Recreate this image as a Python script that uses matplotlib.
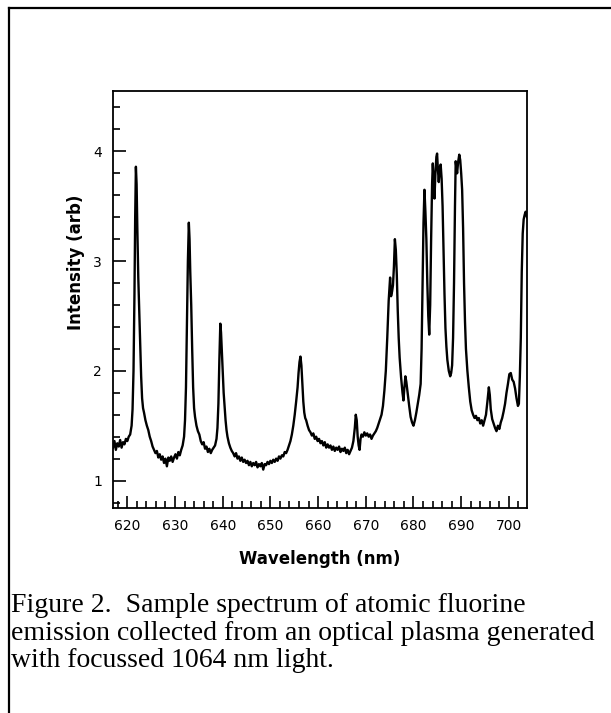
import matplotlib
matplotlib.use("Agg")
from matplotlib import pyplot as plt
from matplotlib.ticker import MultipleLocator
from matplotlib.lines import Line2D

# Spektrum odcitane z obrazku (vlnova dlzka v nm, intenzita v arb)
wavelength = [
    617.0, 617.3, 617.6, 617.9, 618.2, 618.5, 618.8, 619.1, 619.4, 619.7,
    620.0, 620.3, 620.6, 620.9, 621.1, 621.3, 621.5, 621.65, 621.8, 621.95,
    622.1, 622.3, 622.5, 622.7, 622.9, 623.1, 623.3, 623.5, 623.8, 624.1,
    624.4, 624.7, 625.0, 625.3, 625.6, 625.9, 626.2, 626.5, 626.8, 627.1,
    627.4, 627.7, 628.0, 628.3, 628.6, 628.9, 629.2, 629.5, 629.8, 630.1,
    630.4, 630.7, 631.0, 631.3, 631.6, 631.9, 632.1, 632.3, 632.5, 632.7,
    632.9, 633.05, 633.2, 633.4, 633.6, 633.8, 634.0, 634.2, 634.5, 634.8,
    635.1, 635.4, 635.7, 636.0, 636.3, 636.6, 636.9, 637.2, 637.5, 637.8,
    638.1, 638.4, 638.7, 638.9, 639.1, 639.3, 639.5, 639.65, 639.8, 640.0,
    640.2, 640.4, 640.6, 640.8, 641.0, 641.3, 641.6, 641.9, 642.2, 642.5,
    642.8, 643.1, 643.4, 643.7, 644.0, 644.3, 644.6, 644.9, 645.2, 645.5,
    645.8, 646.1, 646.4, 646.7, 647.0, 647.3, 647.6, 647.9, 648.2, 648.5,
    648.8, 649.1, 649.4, 649.7, 650.0, 650.3, 650.6, 650.9, 651.2, 651.5,
    651.8, 652.1, 652.4, 652.7, 653.0, 653.3, 653.6, 653.9, 654.2, 654.5,
    654.8, 655.1, 655.4, 655.7, 655.9, 656.1, 656.3, 656.5, 656.7, 656.9,
    657.1, 657.3, 657.5, 657.8, 658.1, 658.4, 658.7, 659.0, 659.3, 659.6,
    659.9, 660.2, 660.5, 660.8, 661.1, 661.4, 661.7, 662.0, 662.3, 662.6,
    662.9, 663.2, 663.5, 663.8, 664.1, 664.4, 664.7, 665.0, 665.3, 665.6,
    665.9, 666.2, 666.5, 666.8, 667.1, 667.4, 667.7, 667.9, 668.1, 668.3,
    668.5, 668.7, 668.9, 669.1, 669.4, 669.7, 670.0, 670.3, 670.6, 670.9,
    671.2, 671.5, 671.8, 672.1, 672.4, 672.7, 673.0, 673.3, 673.6, 673.9,
    674.2, 674.5, 674.8, 675.1, 675.3, 675.5, 675.7, 675.9, 676.1, 676.3,
    676.5, 676.7, 676.9, 677.1, 677.4, 677.7, 677.9, 678.1, 678.3, 678.5,
    678.8, 679.1, 679.4, 679.7, 680.0, 680.3, 680.6, 680.9, 681.2, 681.5,
    681.7, 681.9, 682.1, 682.3, 682.5, 682.7, 682.9, 683.1, 683.3, 683.5,
    683.7, 683.9, 684.05, 684.2, 684.4, 684.6, 684.8, 684.95, 685.1, 685.3,
    685.5, 685.7, 685.9, 686.1, 686.3, 686.5, 686.7, 686.9, 687.1, 687.4,
    687.7, 687.9, 688.1, 688.3, 688.5, 688.7, 688.85, 689.0, 689.15, 689.35,
    689.6, 689.8, 690.0, 690.2, 690.4, 690.6, 690.8, 691.0, 691.3, 691.6,
    691.9, 692.2, 692.5, 692.8, 693.1, 693.4, 693.7, 694.0, 694.3, 694.6,
    694.9, 695.2, 695.5, 695.8, 696.0, 696.2, 696.5, 696.8, 697.1, 697.4,
    697.7, 698.0, 698.3, 698.6, 698.9, 699.2, 699.5, 699.8, 700.1, 700.4,
    700.7, 701.0, 701.3, 701.6, 701.9, 702.1, 702.3, 702.5, 702.7, 702.9,
    703.1, 703.3, 703.5, 703.8,
]
intensity = [
    1.30, 1.36, 1.28, 1.34, 1.31, 1.37, 1.30, 1.35, 1.33, 1.38,
    1.36, 1.40, 1.42, 1.50, 1.65, 2.00, 2.70, 3.40, 3.86, 3.70,
    3.30, 2.85, 2.55, 2.25, 1.95, 1.75, 1.66, 1.62, 1.55, 1.50,
    1.46, 1.40, 1.36, 1.31, 1.28, 1.25, 1.27, 1.21, 1.24, 1.19,
    1.22, 1.16, 1.20, 1.13, 1.21, 1.18, 1.22, 1.17, 1.21, 1.24,
    1.20, 1.26, 1.23, 1.28, 1.32, 1.40, 1.55, 1.85, 2.40, 3.00,
    3.35, 3.20, 2.90, 2.60, 2.20, 1.85, 1.66, 1.58, 1.50, 1.45,
    1.42, 1.36, 1.33, 1.35, 1.29, 1.31, 1.26, 1.29, 1.25, 1.28,
    1.30, 1.32, 1.38, 1.48, 1.70, 2.10, 2.43, 2.35, 2.20, 1.98,
    1.80, 1.68, 1.55, 1.46, 1.40, 1.34, 1.30, 1.27, 1.25, 1.22,
    1.25, 1.20, 1.22, 1.18, 1.21, 1.17, 1.19, 1.16, 1.18, 1.14,
    1.17, 1.13, 1.16, 1.14, 1.17, 1.12, 1.15, 1.13, 1.16, 1.10,
    1.15, 1.14, 1.17, 1.15, 1.18, 1.16, 1.19, 1.17, 1.20, 1.18,
    1.22, 1.20, 1.23, 1.22, 1.26, 1.25, 1.28, 1.32, 1.36, 1.42,
    1.50, 1.60, 1.72, 1.85, 1.98, 2.08, 2.13, 2.05, 1.88, 1.72,
    1.62, 1.57, 1.55, 1.50, 1.46, 1.44, 1.41, 1.43, 1.38, 1.40,
    1.36, 1.38, 1.34, 1.36, 1.32, 1.35, 1.30, 1.33, 1.30, 1.32,
    1.28, 1.31, 1.27, 1.30, 1.28, 1.31, 1.26, 1.29, 1.27, 1.30,
    1.25, 1.28, 1.24, 1.27, 1.30, 1.36, 1.48, 1.60, 1.55, 1.40,
    1.32, 1.28, 1.38, 1.42, 1.40, 1.44, 1.41, 1.43, 1.40, 1.42,
    1.38, 1.41, 1.43, 1.45, 1.48, 1.52, 1.56, 1.60, 1.68, 1.82,
    2.00, 2.30, 2.64, 2.85, 2.68, 2.72, 2.78, 2.95, 3.20, 3.10,
    2.88, 2.55, 2.30, 2.12, 1.94, 1.80, 1.73, 1.85, 1.95, 1.90,
    1.79, 1.68, 1.58, 1.53, 1.50, 1.55, 1.62, 1.70, 1.78, 1.88,
    2.20, 2.80, 3.35, 3.65, 3.45, 3.20, 2.80, 2.50, 2.33, 2.60,
    3.20, 3.70, 3.89, 3.75, 3.57, 3.80, 3.95, 3.98, 3.85, 3.72,
    3.85, 3.88, 3.75, 3.50, 3.10, 2.70, 2.39, 2.22, 2.10, 2.00,
    1.95, 1.98, 2.05, 2.30, 2.80, 3.50, 3.91, 3.85, 3.80, 3.90,
    3.97, 3.92, 3.80, 3.65, 3.30, 2.80, 2.45, 2.20, 2.00, 1.85,
    1.72, 1.64, 1.60, 1.57, 1.59, 1.55, 1.57, 1.52, 1.55, 1.50,
    1.55, 1.60, 1.72, 1.85, 1.78, 1.65, 1.56, 1.52, 1.48, 1.45,
    1.50, 1.47, 1.53, 1.57, 1.63, 1.70, 1.80, 1.88, 1.97, 1.98,
    1.92, 1.90, 1.84, 1.75, 1.68, 1.70, 1.95, 2.30, 2.90, 3.25,
    3.38, 3.42, 3.45, 3.40,
]

x_ticks = [620, 630, 640, 650, 660, 670, 680, 690, 700]
y_ticks = [1, 2, 3, 4]

caption = ["Figure 2.  Sample spectrum of atomic fluorine",
           "emission collected from an optical plasma generated",
           "with focussed 1064 nm light."]


def vykresli():
    fig = plt.figure(figsize=(6.11, 7.13), dpi=100)
    ax = fig.add_axes([113 / 611, 1 - 508 / 713, 414 / 611, 417 / 713])

    ax.plot(wavelength, intensity, color="black", lw=1.7)
    ax.set_xlim(617, 703.8)
    ax.set_ylim(0.75, 4.55)

    ax.set_xticks(x_ticks)
    ax.set_yticks(y_ticks)
    ax.xaxis.set_minor_locator(MultipleLocator(2))
    ax.yaxis.set_minor_locator(MultipleLocator(0.2))
    ax.tick_params(which="both", direction="in", top=False, right=False,
                   width=1.2, labelsize=10, color="black")
    ax.tick_params(which="major", length=9)
    ax.tick_params(which="minor", length=5)
    ax.tick_params(axis="x", pad=8)
    ax.tick_params(axis="y", pad=8)
    for s in ax.spines.values():
        s.set_linewidth(1.3)

    ax.set_xlabel("Wavelength (nm)", fontsize=12, fontweight="bold", labelpad=12)
    fig.text(76 / 611, 1 - 262 / 713, "Intensity (arb)", fontsize=12,
             fontweight="bold", rotation=90, ha="center", va="center")

    # Ramcek okolo obrazku
    fig.add_artist(Line2D([9 / 611, 9 / 611], [0, 1 - 8 / 713], color="black", lw=1.6))
    fig.add_artist(Line2D([9 / 611, 1], [1 - 8 / 713, 1 - 8 / 713], color="black", lw=1.6))

    base = [612, 640, 667]
    for riadok, yb in zip(caption, base):
        fig.text(11 / 611, 1 - yb / 713, riadok, fontsize=20,
                 family="Liberation Serif", ha="left", va="baseline")

    fig.savefig("out.png", dpi=100)


if __name__ == '__main__':
    vykresli()
